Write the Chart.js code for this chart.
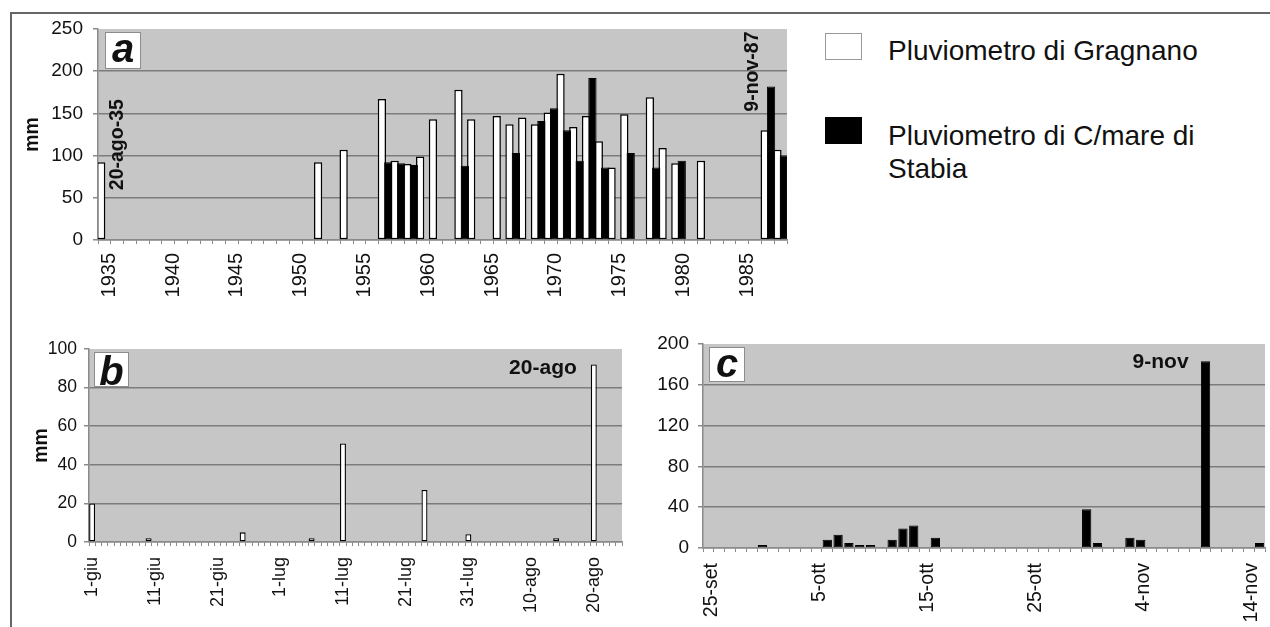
<!DOCTYPE html>
<html>
<head>
<meta charset="utf-8">
<title>Piogge massime - Gragnano e C/mare di Stabia</title>
<script src="https://cdn.jsdelivr.net/npm/chart.js@4.4.1/dist/chart.umd.min.js"></script>
<style>
    body { margin: 0; background: #fff; }
    #tavola { position: relative; width: 1270px; height: 627px; overflow: hidden; font-family: "Liberation Sans", Arial, sans-serif; color: #111; }
    #cornice { position: absolute; left: 10px; top: 12px; width: 1280px; height: 640px; border-left: 2px solid #666; border-top: 2px solid #666; }
    canvas { position: absolute; }
    #graficoA { left: 0; top: 0; }
    #graficoB { left: 0; top: 320px; }
    #graficoC { left: 640px; top: 320px; }
    .quadretto { position: absolute; left: 825px; width: 37px; height: 27px; box-sizing: border-box; }
    .voce { position: absolute; left: 888px; font-size: 28px; line-height: 33px; white-space: nowrap; }
</style>
</head>
<body>
<div id="tavola">
    <div id="cornice"></div>
    <canvas id="graficoA" width="800" height="310"></canvas>
    <canvas id="graficoB" width="640" height="307"></canvas>
    <canvas id="graficoC" width="630" height="307"></canvas>
    <div class="quadretto" style="top:33px;background:#fff;border:1px solid #999;"></div>
    <div class="voce" style="top:34px">Pluviometro di Gragnano</div>
    <div class="quadretto" style="top:117px;background:#000;"></div>
    <div class="voce" style="top:119px">Pluviometro di C/mare di<br>Stabia</div>
</div>
<script>
    var FONT = '"Liberation Sans", Arial, sans-serif';
    Chart.defaults.font.family = FONT;
    Chart.defaults.color = '#111';

    // a) massimi giornalieri annui (mm)
    var anniGragnano = [1935, 1952, 1954, 1957, 1958, 1959, 1960, 1961, 1963, 1964, 1966, 1967, 1968, 1969,
        1970, 1971, 1972, 1973, 1974, 1975, 1976, 1978, 1979, 1980, 1982, 1987, 1988];
    var mmGragnano = [92, 92, 107, 167, 94, 90, 99, 143, 178, 143, 147, 137, 145, 137,
        151, 197, 134, 147, 117, 86, 149, 169, 109, 91, 94, 130, 107];
    var anniStabia = [1957, 1958, 1959, 1963, 1967, 1969, 1970, 1971, 1972, 1973, 1974, 1976, 1978, 1980, 1987, 1988];
    var mmStabia = [92, 91, 89, 88, 103, 141, 156, 130, 94, 192, 86, 103, 86, 94, 182, 100];

    // b) estate 1935, Gragnano
    var giorniB = ['1-giu', '10-giu', '25-giu', '6-lug', '11-lug', '24-lug', '31-lug', '14-ago', '20-ago'];
    var mmB = [20, 2, 5, 2, 51, 27, 4, 2, 92];

    // c) autunno 1987, C/mare di Stabia
    var giorniC = ['30-set', '6-ott', '7-ott', '8-ott', '9-ott', '10-ott', '12-ott', '13-ott', '14-ott', '16-ott',
        '30-ott', '31-ott', '3-nov', '4-nov', '10-nov', '15-nov'];
    var mmC = [3, 8, 13, 5, 3, 3, 8, 19, 22, 10, 38, 5, 10, 8, 183, 5];

    var GRIGIO_AREA = '#c6c6c6';
    var GRIGIO_GRIGLIA = '#7c7c7c';
    var GRIGIO_ASSE = '#8a8a8a';

    function elencoAnni(da, a) {
        var out = [];
        for (var y = da; y <= a; y++) {
            out.push(String(y));
        }
        return out;
    }

    // mesi: [[nome, giorni del mese], ...]
    function elencoGiorni(primo, mesi, quanti) {
        var out = [], m = 0, g = primo;
        while (out.length < quanti) {
            out.push(g + '-' + mesi[m][0]);
            g++;
            if (g > mesi[m][1]) {
                g = 1;
                m++;
            }
        }
        return out;
    }

    function serie(asse, chiavi, valori) {
        var out = asse.map(function () { return null; });
        chiavi.forEach(function (k, i) {
            out[asse.indexOf(String(k))] = valori[i];
        });
        return out;
    }

    var anni = elencoAnni(1935, 1988);
    var asseB = elencoGiorni(1, [['giu', 30], ['lug', 31], ['ago', 31]], 85);
    var asseC = elencoGiorni(25, [['set', 30], ['ott', 31], ['nov', 30]], 52);

    /*********************************************************************
     * plugin
     *********************************************************************/
    var sfondo = {
        id: 'sfondo',
        beforeDraw: function (chart) {
            var a = chart.chartArea;
            var ctx = chart.ctx;
            ctx.save();
            ctx.fillStyle = GRIGIO_AREA;
            ctx.fillRect(a.left, a.top, a.right - a.left, a.bottom - a.top);
            ctx.restore();
        }
    };

    // le barre nere vanno sopra a quelle bianche (come nell'originale)
    var neriSopra = {
        id: 'neriSopra',
        beforeDatasetsDraw: function (chart) {
            var a = chart.chartArea;
            var ctx = chart.ctx;
            ctx.save();
            ctx.beginPath();
            ctx.rect(a.left, a.top - 2, a.right - a.left, a.bottom - a.top + 2);
            ctx.clip();
            chart.getSortedVisibleDatasetMetas().forEach(function (meta) {
                meta.controller.draw();
            });
            ctx.restore();
            return false;
        }
    };

    function decorazioni(lettera, riquadro, note) {
        return {
            id: 'decorazioni',
            afterDraw: function (chart) {
                var ctx = chart.ctx;
                var a = chart.chartArea;
                var bx = a.left + riquadro[0], by = a.top + riquadro[1];
                ctx.save();
                ctx.fillStyle = '#fff';
                ctx.fillRect(bx, by, riquadro[2], riquadro[3]);
                ctx.strokeStyle = '#8c8c8c';
                ctx.lineWidth = 1;
                ctx.strokeRect(bx + 0.5, by + 0.5, riquadro[2] - 1, riquadro[3] - 1);
                ctx.fillStyle = '#111';
                ctx.font = 'italic bold 40px ' + FONT;
                ctx.textAlign = 'center';
                ctx.textBaseline = 'alphabetic';
                ctx.fillText(lettera, bx + riquadro[2] / 2, by + riquadro[4]);

                note.forEach(function (n) {
                    var x = chart.scales.x.getPixelForValue(n.x) + n.dx;
                    var y = chart.scales.y.getPixelForValue(n.mm);
                    ctx.save();
                    ctx.font = 'bold ' + n.corpo + 'px ' + FONT;
                    ctx.textBaseline = 'middle';
                    if (n.ruota) {
                        ctx.translate(x, y);
                        ctx.rotate(-Math.PI / 2);
                        ctx.textAlign = 'left';
                        ctx.fillText(n.testo, 0, 0);
                    } else {
                        ctx.textAlign = 'right';
                        ctx.fillText(n.testo, x, y);
                    }
                    ctx.restore();
                });
                ctx.restore();
            }
        };
    }

    /*********************************************************************
     * assi
     *********************************************************************/
    function asseX(ogni, corpo, spazio, altezza, scarto) {
        return {
            type: 'category',
            offset: true,
            grid: { offset: true, drawOnChartArea: false, tickLength: 4, color: GRIGIO_ASSE, lineWidth: 1 },
            border: { color: GRIGIO_ASSE, width: 1.5 },
            ticks: {
                autoSkip: false,
                minRotation: 90,
                maxRotation: 90,
                padding: spazio,
                labelOffset: scarto,
                font: { size: corpo },
                callback: function (v, i) {
                    return i % ogni === 0 ? this.getLabelForValue(v) : '';
                }
            },
            afterFit: function (s) {
                s.height = altezza;
                // niente margini laterali per le etichette ruotate
                s.paddingLeft = 0;
                s.paddingRight = 0;
            }
        };
    }

    function asseY(max, passo, corpo, spazio, larghezza, titolo) {
        return {
            min: 0,
            max: max,
            ticks: { stepSize: passo, padding: spazio, font: { size: corpo } },
            grid: {
                color: function (c) { return c.tick.value === max ? 'rgba(0,0,0,0)' : GRIGIO_GRIGLIA; },
                lineWidth: 1.5,
                tickLength: 5,
                tickColor: GRIGIO_ASSE
            },
            border: { color: GRIGIO_ASSE, width: 1.5 },
            title: titolo === null ? { display: false } : {
                display: true,
                text: 'mm',
                font: { size: 19.5, weight: 'bold' },
                padding: { top: titolo, bottom: 0 }
            },
            afterFit: function (s) {
                s.width = larghezza;
                s.paddingTop = 0;
                s.paddingBottom = 0;
            }
        };
    }

    function opzioni(scales, padding) {
        return {
            responsive: false,
            animation: false,
            devicePixelRatio: 1,
            layout: { padding: padding },
            plugins: { legend: { display: false }, tooltip: { enabled: false } },
            scales: scales
        };
    }

    /*********************************************************************
     * grafici
     *********************************************************************/
    new Chart(document.getElementById('graficoA'), {
        type: 'bar',
        data: {
            labels: anni,
            datasets: [{
                label: 'Pluviometro di Gragnano',
                data: serie(anni, anniGragnano, mmGragnano),
                backgroundColor: '#fff',
                borderColor: '#000',
                borderWidth: 1.5,
                borderSkipped: false,
                categoryPercentage: 1,
                barPercentage: 1.3
            }, {
                label: 'Pluviometro di C/mare di Stabia',
                data: serie(anni, anniStabia, mmStabia),
                backgroundColor: '#000',
                borderColor: '#000',
                borderWidth: 1,
                borderSkipped: false,
                categoryPercentage: 1,
                barPercentage: 1.3
            }]
        },
        options: opzioni({ x: asseX(5, 20, 9, 70, 5), y: asseY(250, 50, 19, 10, 98, 21) },
            { top: 29, right: 13, left: 0, bottom: 0 }),
        plugins: [sfondo, neriSopra, decorazioni('a', [7, 3, 36, 37, 30], [
            { testo: '20-ago-35', x: '1936', mm: 59, dx: 0, ruota: true, corpo: 19.5 },
            { testo: '9-nov-87', x: '1986', mm: 152, dx: -2, ruota: true, corpo: 19.5 }
        ])]
    });

    new Chart(document.getElementById('graficoB'), {
        type: 'bar',
        data: {
            labels: asseB,
            datasets: [{
                label: 'Pluviometro di Gragnano',
                data: serie(asseB, giorniB, mmB),
                backgroundColor: '#fff',
                borderColor: '#000',
                borderWidth: 1.3,
                borderSkipped: false,
                categoryPercentage: 1,
                barPercentage: 0.95
            }]
        },
        options: opzioni({ x: asseX(10, 18, 11, 85, 0), y: asseY(100, 20, 17.5, 7, 89, 30) },
            { top: 29, right: 18, left: 0, bottom: 0 }),
        plugins: [sfondo, decorazioni('b', [5, 3, 35, 35, 33], [
            { testo: '20-ago', x: '20-ago', mm: 90, dx: -17, ruota: false, corpo: 21 }
        ])]
    });

    new Chart(document.getElementById('graficoC'), {
        type: 'bar',
        data: {
            labels: asseC,
            datasets: [{
                label: 'Pluviometro di C/mare di Stabia',
                data: serie(asseC, giorniC, mmC),
                backgroundColor: '#000',
                borderColor: '#000',
                borderWidth: 1,
                borderSkipped: false,
                categoryPercentage: 1,
                barPercentage: 0.86
            }]
        },
        options: opzioni({ x: asseX(10, 19.5, 11, 79, 3), y: asseY(200, 40, 19, 9, 63, null) },
            { top: 24, right: 5, left: 0, bottom: 0 }),
        plugins: [sfondo, decorazioni('c', [6, 3, 36, 35, 30], [
            { testo: '9-nov', x: '10-nov', mm: 182, dx: -17, ruota: false, corpo: 21 }
        ])]
    });
</script>
</body>
</html>
